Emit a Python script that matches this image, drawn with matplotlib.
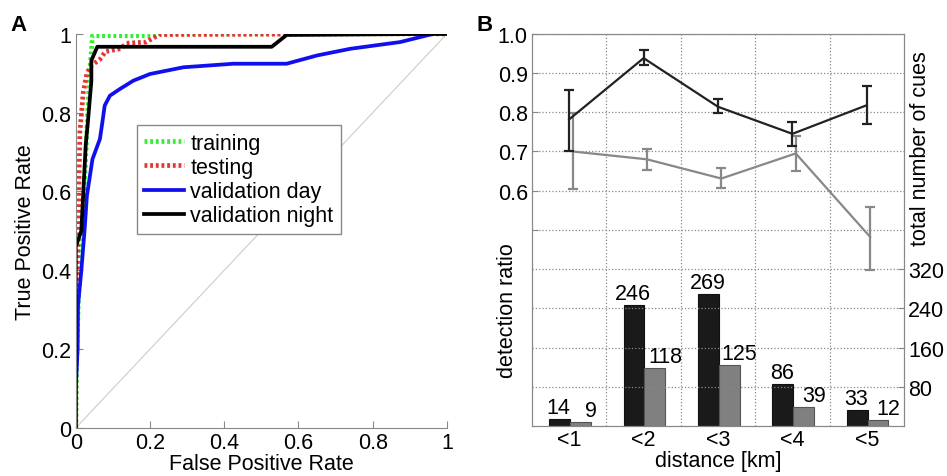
import matplotlib
matplotlib.use('Agg')
import matplotlib.pyplot as plt
import numpy as np

plt.rcParams['font.family'] = ['Liberation Sans', 'DejaVu Sans']
plt.rcParams['font.size'] = 15.5

# --- panel A: ROC curves
train_fpr = [0, 0.003, 0.008, 0.015, 0.025, 0.032, 0.04, 0.045, 0.21, 0.22, 1.0]
train_tpr = [0, 0.2, 0.35, 0.5, 0.65, 0.8, 0.93, 0.995, 0.995, 1.0, 1.0]

test_fpr = [0, 0, 0.005, 0.008, 0.011, 0.02, 0.03, 0.042, 0.05, 0.065, 0.08, 0.12,
            0.137, 0.19, 0.21, 0.226, 0.8, 1.0]
test_tpr = [0, 0.3, 0.45, 0.58, 0.75, 0.85, 0.9, 0.92, 0.925, 0.935, 0.955, 0.962,
            0.976, 0.979, 0.99, 0.998, 1.0, 1.0]

day_fpr = [0, 0, 0.005, 0.006, 0.015, 0.024, 0.03, 0.045, 0.065, 0.069, 0.078, 0.092,
           0.119, 0.155, 0.2, 0.29, 0.424, 0.568, 0.65, 0.74, 0.874, 0.964, 1.0]
day_tpr = [0, 0.1, 0.2, 0.31, 0.4, 0.505, 0.589, 0.682, 0.733, 0.758, 0.818, 0.843,
           0.86, 0.881, 0.898, 0.915, 0.924, 0.924, 0.945, 0.962, 0.979, 1.0, 1.0]

night_fpr = [0, 0, 0.015, 0.027, 0.033, 0.042, 0.042, 0.058, 0.528, 0.568, 1.0]
night_tpr = [0, 0.46, 0.5, 0.72, 0.78, 0.88, 0.932, 0.967, 0.967, 0.997, 1.0]

# --- panel B
dist_labels = ['<1', '<2', '<3', '<4', '<5']
ratio_dark = [0.782, 0.938, 0.814, 0.745, 0.818]
ratio_dark_lo = [0.700, 0.921, 0.799, 0.714, 0.770]
ratio_dark_hi = [0.858, 0.958, 0.835, 0.775, 0.867]
ratio_gray = [0.700, 0.680, 0.631, 0.695, 0.482]
ratio_gray_lo = [0.604, 0.653, 0.606, 0.650, 0.398]
ratio_gray_hi = [0.798, 0.706, 0.657, 0.740, 0.559]
cues_dark = [14, 246, 269, 86, 33]
cues_gray = [9, 118, 125, 39, 12]

fig = plt.figure(figsize=(9.47, 4.77), dpi=100)

# ---------- A
axA = fig.add_axes([0.080, 0.1006, 0.392, 0.8265])
axA.plot([0, 1], [0, 1], color='#cccccc', lw=0.8)
dots = (0, (0.6, 0.6))
axA.plot(train_fpr, train_tpr, color='#33ee33', lw=3.4, ls=dots, label='training')
axA.plot(test_fpr, test_tpr, color='#e83333', lw=3.4, ls=dots, label='testing')
axA.plot(day_fpr, day_tpr, '-', color='#1010ee', lw=2.7, label='validation day')
axA.plot(night_fpr, night_tpr, '-', color='black', lw=2.7, label='validation night')
axA.set_xlim(0, 1)
axA.set_ylim(0, 1)
ticks = [0, 0.2, 0.4, 0.6, 0.8, 1]
tlabs = ['0', '0.2', '0.4', '0.6', '0.8', '1']
axA.set_xticks(ticks, tlabs)
axA.set_yticks(ticks, tlabs)
axA.spines['top'].set_visible(False)
axA.spines['right'].set_visible(False)
for s in ['left', 'bottom']:
    axA.spines[s].set_color('#888888')
axA.tick_params(direction='in', color='#888888', length=5, pad=3)
axA.set_xlabel('False Positive Rate', labelpad=0)
axA.set_ylabel('True Positive Rate', labelpad=4)
leg = axA.legend(loc='upper left', bbox_to_anchor=(0.164, 0.768), borderaxespad=0,
                 handlelength=1.85, handletextpad=0.3, labelspacing=0.15,
                 borderpad=0.35, fancybox=False, framealpha=1, edgecolor='#888888')
leg.get_frame().set_linewidth(1.0)

# ---------- B
axB = fig.add_axes([0.5618, 0.1048, 0.3928, 0.8222])
axB2 = axB.twinx()
x = np.arange(1, 6)

axB2.bar(x - 0.27, cues_dark, width=0.28, align='edge', color='#1a1a1a',
         edgecolor='#111111', lw=0.8)
axB2.bar(x + 0.01, cues_gray, width=0.28, align='edge', color='#808080',
         edgecolor='#555555', lw=0.8)
for xi, v in zip(x, cues_dark):
    axB2.text(xi - 0.14, v + 2, str(v), ha='center', va='bottom')
for xi, v in zip(x, cues_gray):
    axB2.text(xi + 0.29, v + 2, str(v), ha='center', va='bottom')

yerr_d = [np.array(ratio_dark) - np.array(ratio_dark_lo),
          np.array(ratio_dark_hi) - np.array(ratio_dark)]
yerr_g = [np.array(ratio_gray) - np.array(ratio_gray_lo),
          np.array(ratio_gray_hi) - np.array(ratio_gray)]
axB.errorbar(x + 0.045, ratio_gray, yerr=yerr_g, color='#888888', lw=1.6,
             capsize=3.5, capthick=1.6, zorder=3)
axB.errorbar(x, ratio_dark, yerr=yerr_d, color='#222222', lw=1.6,
             capsize=3.5, capthick=1.6, zorder=4)

axB.set_xlim(0.5, 5.5)
axB.set_ylim(0, 1)
axB2.set_ylim(0, 800)
axB.set_xticks(x, dist_labels)
axB.set_xticks([1.5, 2.5, 3.5, 4.5], minor=True)
axB.tick_params(axis='x', which='both', length=0, pad=2)
axB.set_yticks([0.5, 0.6, 0.7, 0.8, 0.9, 1.0], ['', '0.6', '0.7', '0.8', '0.9', '1.0'])
axB2.set_yticks([80, 160, 240, 320])
axB.tick_params(axis='y', direction='in', color='#888888', length=4, pad=3)
axB2.tick_params(axis='y', direction='in', color='#888888', length=4, pad=3)
axB.grid(True, which='minor', axis='x', ls=':', color='#888888', lw=0.9)
axB.grid(True, which='major', axis='y', ls=':', color='#888888', lw=0.9)
axB2.grid(True, axis='y', ls=':', color='#888888', lw=0.9)
axB.set_zorder(axB2.get_zorder() + 1)
axB.patch.set_visible(False)
for a in (axB, axB2):
    for s in a.spines.values():
        s.set_color('#888888')

axB.set_xlabel('distance [km]', labelpad=0)
axB.set_ylabel('detection ratio')
axB.yaxis.set_label_coords(-0.038, 0.296)
axB2.set_ylabel('total number of cues')
axB2.yaxis.set_label_coords(1.016, 0.71)

fig.text(0.011, 0.935, 'A', fontsize=16, fontweight='bold')
fig.text(0.503, 0.935, 'B', fontsize=16, fontweight='bold')

fig.savefig('out.png', dpi=100)
